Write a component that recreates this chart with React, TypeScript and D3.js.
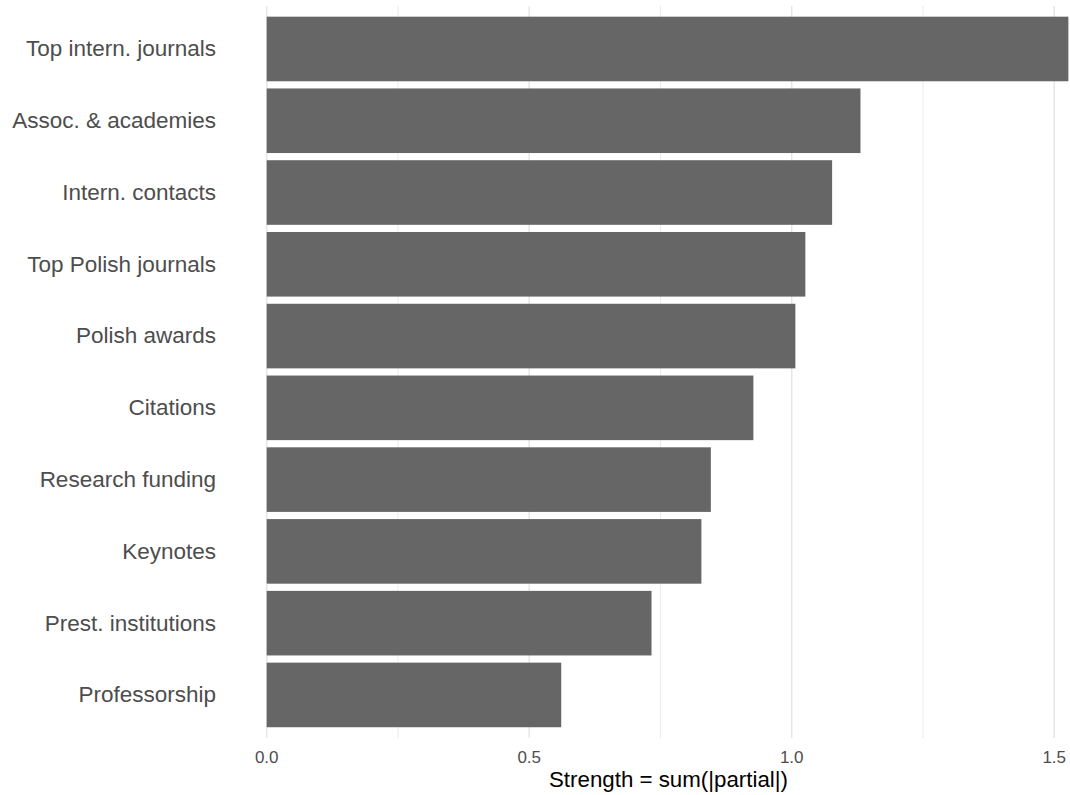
import React from "react";
import * as d3 from "d3";

const categories = [
  "Top intern. journals",
  "Assoc. & academies",
  "Intern. contacts",
  "Top Polish journals",
  "Polish awards",
  "Citations",
  "Research funding",
  "Keynotes",
  "Prest. institutions",
  "Professorship",
];
const strength = [1.527, 1.131, 1.077, 1.026, 1.007, 0.927, 0.846, 0.828, 0.733, 0.561];
const majorTicks = [0, 0.5, 1.0, 1.5];
const minorTicks = [0.25, 0.75, 1.25];
const xTitle = "Strength = sum(|partial|)";

const W = 1070;
const H = 795;
const FONT = "'Liberation Sans', Arial, Helvetica, sans-serif";

export default function App() {
  const maxV = d3.max(strength) as number;
  const pad = maxV * 0.05;
  const x = d3
    .scaleLinear()
    .domain([-pad, maxV + pad])
    .range([266.7 - pad * 525, 266.7 + (maxV + pad) * 525]);
  const panelTop = 5.9;
  const panelBottom = 738;
  const y = d3
    .scaleBand<string>()
    .domain(categories)
    .range([panelTop, panelBottom])
    .paddingInner(0.1)
    .paddingOuter(0.15);

  return (
    <svg
      width={W}
      height={H}
      style={{ position: "absolute", left: 0, top: 0, background: "#fff" }}
      fontFamily={FONT}
    >
      <rect x={0} y={0} width={W} height={H} fill="#fff" />
      {minorTicks.map((t) => (
        <line
          key={"mi" + t}
          x1={x(t)}
          x2={x(t)}
          y1={panelTop}
          y2={panelBottom}
          stroke="#ebebeb"
          strokeWidth={1}
        />
      ))}
      {majorTicks.map((t) => (
        <line
          key={"ma" + t}
          x1={x(t)}
          x2={x(t)}
          y1={panelTop}
          y2={panelBottom}
          stroke="#e6e6e6"
          strokeWidth={1.5}
        />
      ))}
      {categories.map((c, i) => (
        <rect
          key={c}
          x={x(0)}
          y={y(c)}
          width={x(strength[i]) - x(0)}
          height={y.bandwidth()}
          fill="#666666"
        />
      ))}
      {categories.map((c) => (
        <text
          key={"l" + c}
          x={216}
          y={(y(c) as number) + y.bandwidth() / 2}
          dy="0.33em"
          textAnchor="end"
          fontSize={22.5}
          fill="#4d4d4d"
        >
          {c}
        </text>
      ))}
      {majorTicks.map((t) => (
        <text
          key={"t" + t}
          x={x(t)}
          y={763}
          textAnchor="middle"
          fontSize={17}
          fill="#4d4d4d"
        >
          {d3.format(".1f")(t)}
        </text>
      ))}
      <text x={668.5} y={787} textAnchor="middle" fontSize={22.3} fill="#000">
        {xTitle}
      </text>
    </svg>
  );
}
